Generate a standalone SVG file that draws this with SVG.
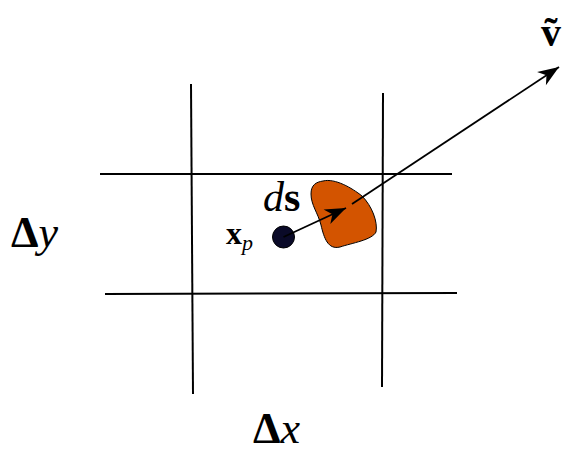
<svg xmlns="http://www.w3.org/2000/svg" width="565" height="452" viewBox="0 0 565 452">
<style>
.grid{stroke:#000;stroke-width:2;fill:none}
.arr{stroke:#000;stroke-width:1.8;fill:none}
.t{font-family:"Liberation Serif","DejaVu Serif",serif;fill:#000}
</style>
<defs>
<marker id="ah" markerUnits="userSpaceOnUse" markerWidth="30" markerHeight="20" viewBox="-22 -10 24 20" refX="0" refY="0" orient="auto">
<path d="M0,0 L-21,-8 L-15,0 L-21,8 Z" fill="#000"/>
</marker>
</defs>
<rect width="565" height="452" fill="#fff"/>
<g id="grid">
<line class="grid" x1="191" y1="84" x2="193" y2="394"/>
<line class="grid" x1="383" y1="93" x2="382" y2="387"/>
<line class="grid" x1="100" y1="174" x2="452" y2="174"/>
<line class="grid" x1="105" y1="294" x2="457" y2="293"/>
</g>
<g id="blob">
<path d="M323,181 C335,178 352,188 362,196 C372,206 378,222 376,232 C372,240 352,243 340,247 C328,250 324,238 321,225 C318,213 311,205 311,194 C311,185 316,182 323,181 Z" fill="#d35400" stroke="#000" stroke-width="1"/>
</g>
<g id="point">
<circle cx="283.5" cy="237" r="11" fill="#0a0a28" stroke="#000" stroke-width="1"/>
</g>
<g id="connectors">
<line class="arr" x1="283.5" y1="237" x2="346" y2="208" marker-end="url(#ah)"/>
<line class="arr" x1="352" y1="204" x2="559" y2="67" marker-end="url(#ah)"/>
</g>
<g id="labels">
<text class="t" x="263" y="211" font-size="42"><tspan font-style="italic">d</tspan><tspan font-weight="bold">s</tspan></text>
<text class="t" x="226" y="244" font-size="32" font-weight="bold">x<tspan font-size="22" font-style="italic" font-weight="normal" dy="6">p</tspan></text>
<text class="t" x="11" y="247" font-size="44"><tspan font-weight="bold">Δ</tspan><tspan font-style="italic">y</tspan></text>
<text class="t" x="253" y="443" font-size="44"><tspan font-weight="bold">Δ</tspan><tspan font-style="italic">x</tspan></text>
<text class="t" x="541" y="46" font-size="40" font-weight="bold">ṽ</text>
</g>
</svg>
